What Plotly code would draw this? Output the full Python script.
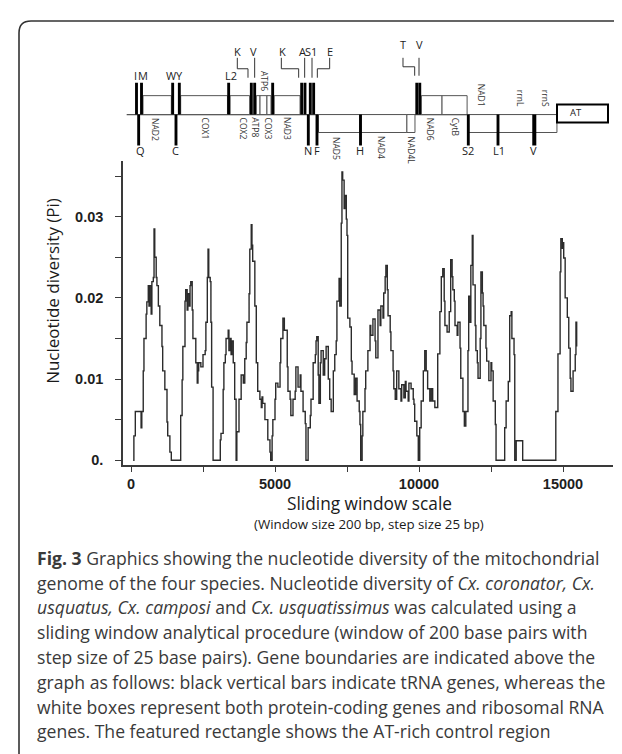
import plotly.graph_objects as go

W, H = 622, 754

# ---------------- sliding-window nucleotide diversity (window 200 bp, step 25 bp)
window_pos = [
    75, 100, 150, 300, 350, 375, 425, 450, 525, 550, 600, 625, 650, 700, 725, 775, 800, 825, 875, 900,
    950, 1000, 1075, 1100, 1175, 1250, 1275, 1350, 1400, 1725, 1775, 1800, 1875, 1900, 1950, 1975, 2025,
    2050, 2075, 2125, 2150, 2225, 2250, 2300, 2325, 2350, 2425, 2500, 2575, 2600, 2650, 2675, 2700, 2750,
    2775, 2800, 2850, 3100, 3125, 3200, 3225, 3275, 3300, 3375, 3400, 3450, 3475, 3500, 3550, 3600, 3650,
    3675, 3750, 3825, 3900, 3950, 4000, 4025, 4100, 4125, 4175, 4200, 4225, 4300, 4350, 4400, 4475, 4525,
    4550, 4575, 4650, 4750, 4825, 4850, 4900, 4925, 5000, 5025, 5100, 5175, 5200, 5275, 5325, 5425, 5450,
    5525, 5550, 5625, 5700, 5725, 5800, 5875, 5900, 5975, 6050, 6075, 6150, 6225, 6250, 6325, 6400, 6425,
    6450, 6500, 6525, 6575, 6600, 6675, 6725, 6775, 6850, 6900, 6950, 7025, 7075, 7125, 7150, 7225, 7250,
    7300, 7325, 7350, 7400, 7425, 7475, 7500, 7525, 7600, 7650, 7675, 7750, 7800, 7850, 7925, 7950, 7975,
    8025, 8050, 8125, 8150, 8225, 8300, 8325, 8400, 8475, 8500, 8575, 8650, 8675, 8750, 8775, 8825, 8850,
    8900, 8925, 9000, 9025, 9100, 9125, 9175, 9225, 9300, 9375, 9400, 9475, 9525, 9550, 9625, 9650, 9725,
    9800, 9825, 9850, 9925, 9975, 10025, 10075, 10150, 10200, 10250, 10300, 10375, 10425, 10475, 10550,
    10650, 10725, 10775, 10825, 10875, 10900, 10975, 11050, 11100, 11150, 11175, 11225, 11250, 11325,
    11350, 11425, 11450, 11525, 11575, 11625, 11700, 11725, 11775, 11800, 11850, 11875, 11950, 11975,
    12025, 12050, 12125, 12150, 12200, 12225, 12250, 12325, 12350, 12425, 12500, 12525, 12575, 12650,
    12675, 12975, 13025, 13100, 13150, 13200, 13225, 13300, 13325, 13375, 13600, 14750, 14825, 14900,
    14925, 14975, 15000, 15025, 15075, 15150, 15200, 15250, 15275, 15350, 15425, 15450, 15475,
]
pi_values = [
    0.0, 0.003, 0.006, 0.006, 0.004, 0.006, 0.011, 0.015, 0.018, 0.0195, 0.0215, 0.019, 0.0215, 0.018,
    0.022, 0.0225, 0.0285, 0.025, 0.0225, 0.0215, 0.019, 0.0166, 0.014, 0.011, 0.0087, 0.0047, 0.003,
    0.001, 0.0, 0.0055, 0.0099, 0.014, 0.0196, 0.021, 0.0185, 0.0205, 0.019, 0.0215, 0.022, 0.0185, 0.015,
    0.015, 0.012, 0.0095, 0.011, 0.012, 0.0115, 0.013, 0.0135, 0.017, 0.0225, 0.026, 0.0225, 0.022, 0.017,
    0.009, 0.0, 0.0025, 0.0033, 0.0087, 0.012, 0.013, 0.015, 0.016, 0.0135, 0.015, 0.013, 0.0147, 0.012,
    0.0075, 0.0, 0.0035, 0.0075, 0.0105, 0.0095, 0.0125, 0.0145, 0.017, 0.0205, 0.026, 0.029, 0.0265,
    0.0245, 0.019, 0.012, 0.0085, 0.0075, 0.0065, 0.0078, 0.007, 0.005, 0.0025, 0.001, 0.0, 0.003, 0.005,
    0.0075, 0.0095, 0.009, 0.012, 0.015, 0.0175, 0.016, 0.0115, 0.0085, 0.0075, 0.0055, 0.0075, 0.0085,
    0.0115, 0.009, 0.0105, 0.0085, 0.006, 0.0045, 0.0, 0.004, 0.0055, 0.0075, 0.012, 0.013, 0.0147,
    0.0152, 0.0105, 0.007, 0.012, 0.0135, 0.0105, 0.0125, 0.014, 0.010, 0.0075, 0.006, 0.011, 0.013,
    0.0147, 0.0196, 0.0224, 0.019, 0.0292, 0.0355, 0.0345, 0.031, 0.0326, 0.0297, 0.0277, 0.0175, 0.0164,
    0.0122, 0.0106, 0.0081, 0.0101, 0.0073, 0.006, 0.0044, 0.0, 0.003, 0.006, 0.0088, 0.011, 0.0135,
    0.0166, 0.0154, 0.0174, 0.0147, 0.0126, 0.0185, 0.0166, 0.019, 0.0175, 0.0206, 0.0226, 0.024, 0.021,
    0.0178, 0.0158, 0.0135, 0.011, 0.0088, 0.0075, 0.011, 0.0088, 0.0073, 0.0093, 0.0077, 0.0097, 0.0085,
    0.0073, 0.0095, 0.0088, 0.0075, 0.0069, 0.0048, 0.003, 0.0, 0.004, 0.0073, 0.011, 0.0135, 0.011,
    0.0088, 0.0073, 0.0088, 0.0073, 0.0065, 0.0131, 0.0183, 0.0226, 0.0236, 0.0196, 0.0166, 0.0158,
    0.0183, 0.0247, 0.0226, 0.021, 0.0196, 0.0166, 0.0154, 0.017, 0.0138, 0.0101, 0.006, 0.0042, 0.006,
    0.0135, 0.0202, 0.017, 0.024, 0.0277, 0.0216, 0.0166, 0.0135, 0.012, 0.0101, 0.015, 0.0232, 0.0206,
    0.019, 0.0166, 0.0138, 0.0122, 0.0098, 0.012, 0.011, 0.0073, 0.0044, 0.0, 0.004, 0.0073, 0.0097,
    0.0178, 0.0183, 0.015, 0.013, 0.0, 0.0024, 0.0, 0.006, 0.0131, 0.0232, 0.0273, 0.0261, 0.0268,
    0.0249, 0.02, 0.0176, 0.0138, 0.0101, 0.0085, 0.011, 0.013, 0.017, 0.014,
]

x_tick_vals = [0, 2500, 5000, 7500, 10000, 12500, 15000]
x_tick_text = ["0", "", "5000", "", "10000", "", "15000"]
y_tick_vals = [0, 0.005, 0.01, 0.015, 0.02, 0.025, 0.03, 0.035]
y_tick_text = ["0.", "", "0.01", "", "0.02", "", "0.03", ""]

# ---------------- gene map (bp along the genome, drawn on the same x scale)
map_start, map_end = -150, 14790
trna_J_pos = [191, 365, 1447, 1678, 3391, 4178, 4294, 4919, 5926, 6041, 6226, 6342, 9923, 10027]
trna_N_pos = [266, 1562, 6157, 6458, 7969, 11712, 12743, 14003]
trna_N_width = [100, 100, 100, 100, 100, 100, 100, 140]

top_labels = ["I", "M", "W", "Y", "L2"]
top_label_pos = [139, 417, 1389, 1701, 3472]

bracket_labels = ["K", "V", "K", "A", "S1", "E", "T", "V"]
bracket_label_pos = [3715, 4259, 5243, 5949, 6261, 6898, 9444, 10000]
bracket_from = [3691, 4294, 5220, 6030, 6285, 6898, 9444, 10000]
bracket_to = [4062, 4294, 5822, 6030, 6285, 6470, 9850, 10000]
bracket_group_high = [False, False, False, False, False, False, True, True]

bottom_labels = ["Q", "C", "N", "F", "H", "S2", "L1", "V"]
bottom_label_pos = [324, 1551, 6146, 6470, 7963, 11701, 12777, 13981]

genes_J = ["NAD2", "COX1", "COX2", "ATP8", "ATP6", "COX3", "NAD3", "NAD6", "CytB"]
genes_J_start = [417, 1725, 3440, 4350, 4480, 4720, 4970, 10080, 10800]
genes_J_end = [1400, 3350, 4120, 4480, 4720, 4860, 5870, 10800, 11670]
genes_J_label_pos = [868, 2569, 3889, 4317, 4641, 4757, 5451, 10428, 11295]
genes_J_label_above = [False, False, False, False, True, False, False, False, False]

genes_N = ["NAD5", "NAD4", "NAD4L", "NAD1", "rrnL", "rrnS"]
genes_N_start = [6510, 7950, 9580, 11712, 12743, 14003]
genes_N_end = [7950, 9580, 9860, 12743, 14003, 14790]
genes_N_label_pos = [7118, 8680, 9757, 12198, 13552, 14420]
genes_N_label_above = [False, False, False, True, True, True]

control_region = ("AT", 14792, 16563)

# ---------------- geometry / style (pixel layout of the page)
X0_PX, X1_PX = 115, 605
Y_TOP_PX, Y_BOT_PX = 154, 459
PX_PER_BP = 0.0288
ZERO_X_PX = 123
ZERO_Y_PX = 454
PX_PER_PI = 8150

x_range = [(X0_PX - ZERO_X_PX) / PX_PER_BP, (X1_PX - ZERO_X_PX) / PX_PER_BP]
y_range = [(ZERO_Y_PX - Y_BOT_PX) / PX_PER_PI, (ZERO_Y_PX - Y_TOP_PX) / PX_PER_PI]

# gene-map vertical units (1 unit = 1 px, baseline at 0)
MAP_BASE_PX = 107
MAP_TOP_PX, MAP_BOT_PX = 10, 150
BOX_UP, BOX_DN = 19, 18
TRNA_UP, TRNA_DN = 32, 31

def py(px_y):
    return 1 - px_y / H

def px(px_x):
    return px_x / W

AXIS_COL = "#3a3a3a"
LINE_COL = "#2b2b2b"
BOX_COL = "#555555"

fig = go.Figure()

fig.add_trace(go.Scatter(
    x=window_pos, y=pi_values, mode="lines",
    line=dict(shape="hv", color=LINE_COL, width=1.4),
    hoverinfo="skip", showlegend=False,
))

# baseline of gene map
fig.add_trace(go.Scatter(
    x=[map_start, map_end], y=[0, 0], mode="lines", xaxis="x", yaxis="y2",
    line=dict(color=BOX_COL, width=1.2), hoverinfo="skip", showlegend=False,
))

shapes = []
for s, e in zip(genes_J_start, genes_J_end):
    shapes.append(dict(type="rect", xref="x", yref="y2", x0=s, x1=e, y0=0, y1=BOX_UP,
                       line=dict(color=BOX_COL, width=1), fillcolor="white"))
for s, e in zip(genes_N_start, genes_N_end):
    shapes.append(dict(type="rect", xref="x", yref="y2", x0=s, x1=e, y0=-BOX_DN, y1=0,
                       line=dict(color=BOX_COL, width=1), fillcolor="white"))
for p in trna_J_pos:
    shapes.append(dict(type="rect", xref="x", yref="y2", x0=p - 50, x1=p + 50, y0=0, y1=TRNA_UP,
                       line=dict(width=0), fillcolor="black"))
for p, w in zip(trna_N_pos, trna_N_width):
    shapes.append(dict(type="rect", xref="x", yref="y2", x0=p - w / 2, x1=p + w / 2, y0=-TRNA_DN, y1=0,
                       line=dict(width=0), fillcolor="black"))
name, s, e = control_region
shapes.append(dict(type="rect", xref="x", yref="y2", x0=s, x1=e, y0=-8, y1=10,
                   line=dict(color="black", width=2), fillcolor="white"))
for a, b, high in zip(bracket_from, bracket_to, bracket_group_high):
    top, mid, bot = (57, 48, 39) if high else (57, 46, 37)
    if a == b:
        path = f"M {a},{top} L {a},{bot}"
    else:
        path = f"M {a},{top} L {a},{mid} L {b},{mid} L {b},{bot}"
    shapes.append(dict(type="path", xref="x", yref="y2", path=path,
                       line=dict(color="#333", width=1)))

# rounded page frame (left and top edges)
r_x, r_y = 12 / W, 12 / H
fx, fy = px(11), py(13)
shapes.append(dict(type="path", xref="paper", yref="paper",
                   path=f"M {fx},-0.05 L {fx},{fy - r_y} Q {fx},{fy} {fx + r_x},{fy} L 1.05,{fy}",
                   line=dict(color="#333", width=1.6)))

annotations = []
lab_font = dict(family="Open Sans", size=11, color="#222")
gene_font = dict(family="Open Sans", size=8.5, color="#333")

for t, p in zip(top_labels, top_label_pos):
    annotations.append(dict(text=t, x=p, y=MAP_BASE_PX - 68, xref="x", yref="y2",
                            showarrow=False, font=lab_font, xanchor="center", yanchor="middle"))
for t, p, high in zip(bracket_labels, bracket_label_pos, bracket_group_high):
    annotations.append(dict(text=t, x=p, y=70 if high else 63, xref="x", yref="y2",
                            showarrow=False, font=lab_font, xanchor="center", yanchor="middle"))
for t, p in zip(bottom_labels, bottom_label_pos):
    annotations.append(dict(text=t, x=p, y=-36, xref="x", yref="y2",
                            showarrow=False, font=lab_font, xanchor="center", yanchor="middle"))
for t, p, above in zip(genes_J, genes_J_label_pos, genes_J_label_above):
    annotations.append(dict(text=t, x=p, y=22 if above else -1, xref="x", yref="y2", textangle=90,
                            showarrow=False, font=gene_font, xanchor="center",
                            yanchor="bottom" if above else "top"))
for t, p, above in zip(genes_N, genes_N_label_pos, genes_N_label_above):
    annotations.append(dict(text=t, x=p, y=6 if above else -20, xref="x", yref="y2", textangle=90,
                            showarrow=False, font=gene_font, xanchor="center",
                            yanchor="bottom" if above else "top"))
annotations.append(dict(text=name, x=15462, y=2, xref="x", yref="y2", showarrow=False,
                        font=dict(family="Open Sans", size=9.5, color="#222"),
                        xanchor="center", yanchor="middle"))

annotations.append(dict(text="Nucleotide diversity (Pi)", x=px(45), y=py(284), xref="paper", yref="paper",
                        textangle=-90, showarrow=False, xanchor="center", yanchor="middle",
                        font=dict(family="Open Sans", size=17, color="#1a1a1a")))
annotations.append(dict(text="Sliding window scale", x=px(361), y=py(497), xref="paper", yref="paper",
                        showarrow=False, xanchor="center", yanchor="middle",
                        font=dict(family="Open Sans", size=17.3, color="#1a1a1a")))
annotations.append(dict(text="(Window size 200 bp, step size 25 bp)", x=px(361), y=py(518),
                        xref="paper", yref="paper", showarrow=False, xanchor="center", yanchor="middle",
                        font=dict(family="Open Sans", size=13.3, color="#1a1a1a")))

caption_lines = [
    "<b>Fig. 3</b> Graphics showing the nucleotide diversity of the mitochondrial",
    "genome of the four species. Nucleotide diversity of <i>Cx. coronator, Cx.</i>",
    "<i>usquatus, Cx. camposi</i> and <i>Cx. usquatissimus</i> was calculated using a",
    "sliding window analytical procedure (window of 200 base pairs with",
    "step size of 25 base pairs). Gene boundaries are indicated above the",
    "graph as follows: black vertical bars indicate tRNA genes, whereas the",
    "white boxes represent both protein-coding genes and ribosomal RNA",
    "genes. The featured rectangle shows the AT-rich control region",
]
for i, line in enumerate(caption_lines):
    annotations.append(dict(text=line, x=px(27), y=py(552 + 24.9 * i), xref="paper", yref="paper",
                            showarrow=False, xanchor="left", yanchor="middle",
                            font=dict(family="Open Sans", size=17.6, color="#3a3a3a")))

tick_font = dict(family="Liberation Sans, Arial", size=14.5, color="#1e1e1e", weight="bold")

fig.update_layout(
    width=W, height=H, autosize=False,
    margin=dict(l=0, r=0, t=0, b=0),
    paper_bgcolor="white", plot_bgcolor="white",
    showlegend=False,
    shapes=shapes, annotations=annotations,
    xaxis=dict(domain=[px(X0_PX), px(X1_PX)], range=x_range, anchor="y",
               showgrid=False, zeroline=False, showline=True, linecolor=AXIS_COL, linewidth=1.5,
               ticks="outside", ticklen=5, tickwidth=1.2, tickcolor=AXIS_COL,
               tickvals=x_tick_vals, ticktext=x_tick_text, tickfont=tick_font),
    yaxis=dict(domain=[py(Y_BOT_PX), py(Y_TOP_PX)], range=y_range, anchor="x",
               showgrid=False, zeroline=False, showline=True, linecolor=AXIS_COL, linewidth=1.5,
               ticks="outside", ticklen=6, tickwidth=1.2, tickcolor=AXIS_COL,
               tickvals=y_tick_vals, ticktext=y_tick_text, tickfont=tick_font,
               ticklabelstandoff=9),
    yaxis2=dict(domain=[py(MAP_BOT_PX), py(MAP_TOP_PX)],
                range=[MAP_BASE_PX - MAP_BOT_PX, MAP_BASE_PX - MAP_TOP_PX],
                anchor="x", visible=False, showgrid=False, zeroline=False),
)

fig.write_html("out.html")
